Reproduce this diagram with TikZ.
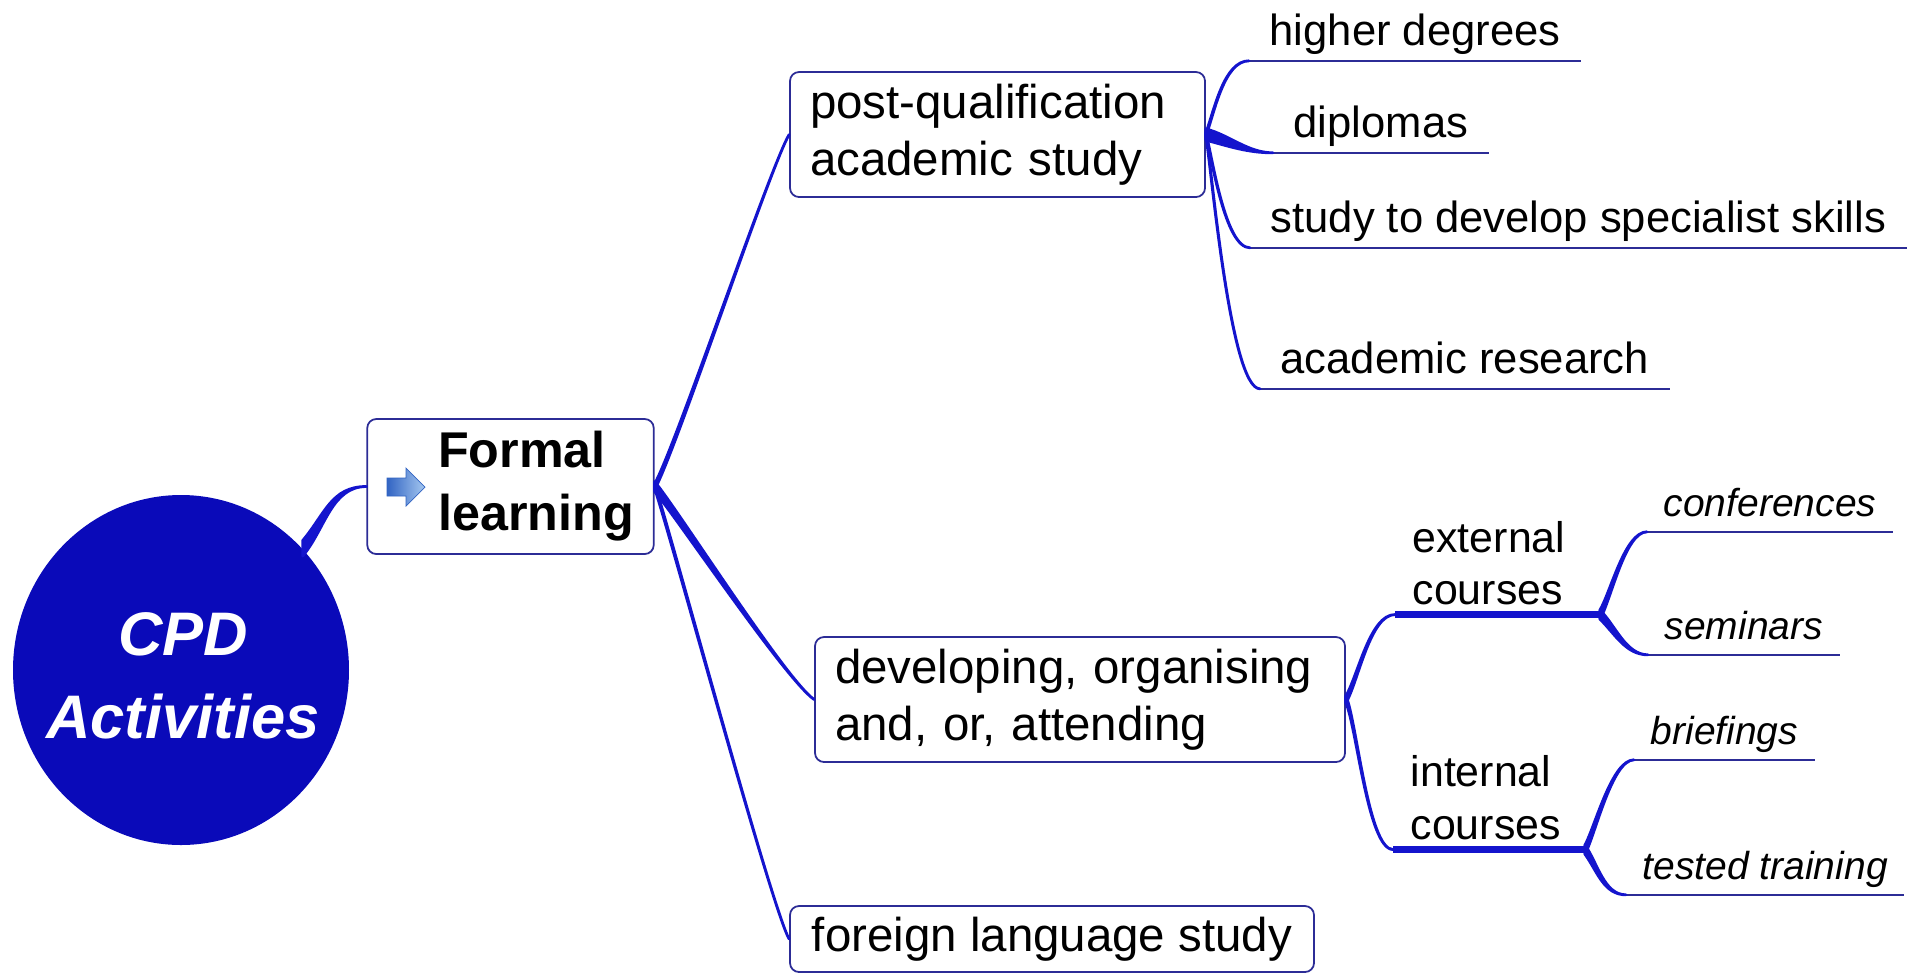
\documentclass[tikz,border=0pt]{standalone}
\usepackage{fontspec}
\setmainfont{Liberation Sans}
\usetikzlibrary{shapes.geometric}
\definecolor{cpdblue}{RGB}{10,10,185}
\definecolor{mapblue}{RGB}{20,20,205}
\definecolor{boxline}{RGB}{44,44,150}
\definecolor{iconlight}{RGB}{165,200,240}
\definecolor{icondark}{RGB}{50,100,195}
\newcommand{\cpdfont}{\fontsize{17.5}{23.5}\selectfont\bfseries\itshape}
\newcommand{\formalfont}{\fontsize{14.3}{17.9}\selectfont\bfseries}
\newcommand{\topicfont}{\fontsize{13.5}{16.2}\selectfont}
\newcommand{\subfont}{\fontsize{12.2}{14.8}\selectfont}
\newcommand{\leaffont}{\fontsize{12.4}{14.8}\selectfont}
\newcommand{\ileaffont}{\fontsize{11.1}{13.3}\selectfont\itshape}
% tapered branch: from, to, half width, out angle, in angle, control length
\newcommand{\limb}[6]{%
  \filldraw[limb] ([yshift=#3]#1) .. controls +(#4:#6) and +(#5:#6) .. (#2)
    .. controls +(#5:#6) and +(#4:#6) .. ([yshift=-#3]#1) -- cycle;}

\begin{document}
\begin{tikzpicture}[x=0.1mm, y=-0.1mm,
  topic/.style={draw=boxline, line width=0.5pt, rounded corners=0.9mm, fill=white, font=\topicfont, align=left, inner xsep=2mm, inner ysep=1mm},
  leaf/.style={font=\leaffont, anchor=base west, inner xsep=2mm, inner ysep=0pt, text depth=4.3pt},
  ileaf/.style={leaf, font=\ileaffont, inner xsep=1.6mm},
  subtopic/.style={font=\subfont, anchor=base west, inner xsep=1.7mm, inner ysep=0pt, text depth=2.8pt},
  uline/.style={draw=boxline, line width=0.6pt},
  subline/.style={draw=mapblue, line width=2pt},
  limb/.style={fill=mapblue, draw=mapblue, line width=0.8pt, line join=round}]
\useasboundingbox (0,0) rectangle (1917,974);

    \node[ellipse, fill=cpdblue, minimum width=33.6mm, minimum height=35mm, inner sep=0pt] (cpd) at (181,670) {};
    \node[text=white, font=\cpdfont, align=center] (cpdtext) at (183,676) {CPD\\Activities};
    \node[topic, font=\formalfont, minimum height=13.5mm] (formal) at (510.5,486.5) {\hspace*{5.1mm}Formal\\\hspace*{5.1mm}learning};
    \shade[left color=icondark, right color=iconlight, draw=icondark, line width=0.2pt] (387,478) -- (406,478) -- (406,468) -- (425,487) -- (406,506) -- (406,496) -- (387,496) -- cycle;

    \node[topic, text width=37.5mm, minimum height=12.5mm] (pq) at (997.5,134.5) {post-qualification\\academic study};
    \node[topic, text width=49mm, minimum height=12.5mm] (dev) at (1080,699.5) {developing, organising\\and, or, attending};
    \node[topic, minimum width=52.4mm, minimum height=6.6mm] (fl) at (1052,939) {foreign language study};
% % % % % % % % % % % % % % % % % % %
    \node[leaf] (hd) at (1249,45) {higher degrees};
    \node[leaf] (dip) at (1273,137) {diplomas};
    \node[leaf] (spec) at (1250,232) {study to develop specialist skills};
    \node[leaf] (res) at (1260,373) {academic research};

    \node[subtopic] (ext) at (1395,604) {\begin{tabular}[b]{@{}l@{}}external\\courses\end{tabular}};
    \node[subtopic] (int) at (1393,839) {\begin{tabular}[b]{@{}l@{}}internal\\courses\end{tabular}};
    \draw[subline] (ext.south west) -- ++(205,0) coordinate (extj);
    \draw[subline] (int.south west) -- ++(192,0) coordinate (intj);

    \node[ileaf] (conf) at (1647,516) {conferences};
    \node[ileaf] (sem) at (1648,639) {seminars};
    \node[ileaf] (brief) at (1634,744) {briefings};
    \node[ileaf] (tested) at (1626,879) {tested training};

    \foreach \n in {hd,dip,spec,res,conf,sem,brief,tested}
        \draw[uline] (\n.south west) -- (\n.south east);
% % % % % % % % % % % % % % % % % % %
    \limb{cpd.45}{formal.west}{2.2pt}{-50}{180}{35}
    \limb{formal.east}{pq.west}{0.8pt}{-60}{120}{40}
    \limb{formal.east}{dev.west}{1.4pt}{50}{215}{35}
    \limb{formal.east}{fl.west}{0.6pt}{70}{240}{35}

    \limb{pq.east}{hd.south west}{0.45pt}{-70}{180}{25}
    \limb{pq.east}{dip.south west}{1.6pt}{15}{180}{25}
    \limb{pq.east}{spec.south west}{0.45pt}{75}{180}{25}
    \limb{pq.east}{res.south west}{0.45pt}{80}{180}{30}

    \limb{dev.east}{ext.south west}{1pt}{-60}{180}{25}
    \limb{dev.east}{int.south west}{1pt}{65}{180}{25}
    \limb{extj}{conf.south west}{1.3pt}{-60}{180}{22}
    \limb{extj}{sem.south west}{1.3pt}{45}{180}{22}
    \limb{intj}{brief.south west}{1.3pt}{-62}{180}{22}
    \limb{intj}{tested.south west}{1.3pt}{55}{180}{22}
\end{tikzpicture}
\end{document}
